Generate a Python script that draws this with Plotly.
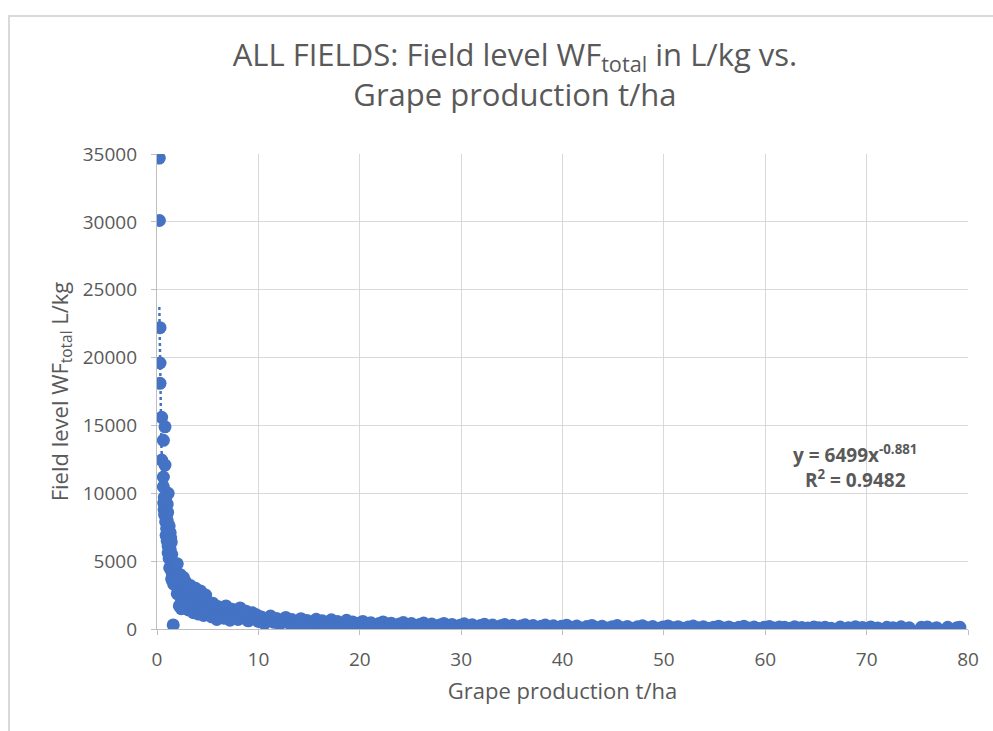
import numpy as np
import plotly.graph_objects as go

# Grape production (t/ha) and field-level total water footprint (L/kg), by yield band
prod_top = [0.23, 0.24, 0.30, 0.30, 0.30, 0.46, 0.79, 0.63, 0.46, 0.79, 0.63, 0.63, 1.10, 1.60]
wf_top = [34700, 30100, 22200, 19600, 18100, 15600, 14900, 13900, 12450, 12080, 11200, 10480, 10000, 300]

prod_a = [0.66, 0.70, 0.75, 0.80, 0.85, 0.90, 0.95, 1.00, 0.90, 1.00, 1.05, 1.10, 0.85, 1.00, 0.72, 1.05,
          1.10, 1.20, 1.30, 1.40, 1.25, 1.45, 1.50, 1.60, 1.70, 1.80, 1.90, 1.15, 1.35, 1.50, 1.65, 2.00, 1.45,
          1.20, 1.30, 1.40]
wf_a = [9300, 8800, 8400, 9000, 7900, 8300, 7400, 8000, 6900, 6500, 7000, 6100, 9500, 9200, 9700, 8600,
        5600, 5200, 5900, 4700, 4500, 5500, 4100, 4400, 3900, 4600, 4200, 6300, 6700, 3600, 3300, 4800, 3700,
        7600, 7100, 6400]

prod_b = [2.0, 2.1, 2.2, 2.3, 2.4, 2.5, 2.6, 2.7, 2.8, 2.9, 3.0, 2.4, 2.6, 2.2,
          3.1, 3.2, 3.3, 3.4, 3.5, 3.6, 3.7, 3.8, 3.9, 4.0, 4.1, 4.2, 4.3, 4.4, 4.5, 4.6, 4.7, 4.8, 4.9, 5.0]
wf_b = [2600, 3500, 2900, 4000, 2200, 3100, 1800, 2600, 3500, 2000, 2900, 1500, 3800, 1700,
        1400, 2300, 3200, 1800, 2700, 1200, 2100, 3000, 1600, 2500, 1100, 1900, 2800, 1400, 2200, 1000, 1700, 2500, 1250, 2000]

prod_c = [5.2, 5.4, 5.5, 5.7, 5.9, 6.0, 6.2, 6.4, 6.6, 6.8, 7.0, 7.2, 7.4, 7.6, 7.8, 8.0, 8.2, 8.4, 8.6,
          8.8, 9.0, 9.2, 9.4, 9.6, 9.8, 10.0]
wf_c = [1500, 900, 1900, 1200, 700, 1650, 1000, 1400, 800, 1700, 1150, 650, 1450, 950, 1250, 700, 1550, 1050, 800,
        1300, 600, 1000, 1200, 750, 1050, 550]

prod_d = [10.3, 10.6, 10.9, 11.2, 11.5, 11.8, 12.1, 12.4, 12.7, 13.0, 13.3, 13.6, 13.9, 14.2, 14.5, 14.8, 15.1,
          15.4, 15.7, 16.0, 16.3, 16.6, 16.9, 17.2, 17.5, 17.8, 18.1, 18.4, 18.7, 19.0, 19.3, 19.6, 19.9]
wf_d = [880, 400, 700, 950, 500, 780, 350, 640, 850, 450, 700, 300, 580, 760, 400, 620, 280,
        530, 720, 380, 600, 250, 480, 680, 350, 560, 230, 450, 640, 320, 520, 210, 420]

prod_e = [20.3, 20.7, 21.1, 21.5, 21.9, 22.3, 22.7, 23.1, 23.5, 23.9, 24.3, 24.7, 25.1, 25.5, 25.9, 26.3, 26.7,
          27.1, 27.5, 27.9, 28.3, 28.7, 29.1, 29.5, 29.9, 30.3, 30.7, 31.1, 31.5, 31.9, 32.3, 32.7, 33.1, 33.5,
          33.9, 34.3, 34.7, 35.1, 35.5, 35.9, 36.3, 36.7, 37.1, 37.5, 37.9, 38.3, 38.7, 39.1, 39.5, 39.9]
wf_e = [560, 300, 460, 180, 400, 520, 250, 430, 160, 360, 480, 220, 400, 150, 330, 440, 200,
        370, 130, 300, 410, 190, 340, 120, 280, 380, 170, 310, 110, 260, 350, 160, 290, 100,
        240, 330, 150, 270, 90, 230, 310, 140, 250, 85, 210, 290, 130, 240, 80, 200]

prod_f = [40.4, 40.9, 41.4, 41.9, 42.4, 42.9, 43.4, 43.9, 44.4, 44.9, 45.4, 45.9, 46.4, 46.9, 47.4, 47.9, 48.4,
          48.9, 49.4, 49.9, 50.4, 50.9, 51.4, 51.9, 52.4, 52.9, 53.4, 53.9, 54.4, 54.9, 55.4, 55.9, 56.4, 56.9,
          57.4, 57.9, 58.4, 58.9, 59.4, 59.9, 60.4, 60.9, 61.4, 61.9, 62.4, 62.9, 63.6, 64.2, 64.8, 65.3, 65.9, 66.5]
wf_f = [280, 120, 220, 70, 180, 260, 110, 200, 65, 170, 250, 100, 190, 60, 160, 240, 95,
        180, 55, 150, 230, 90, 170, 50, 140, 220, 85, 160, 50, 135, 210, 80, 150, 45,
        130, 200, 75, 145, 45, 120, 190, 70, 140, 120, 60, 170, 110, 65, 150, 90, 130, 60]

prod_g = [67.4, 68.2, 68.9, 69.6, 70.4, 71.1, 72.0, 72.6, 73.4, 74.2, 75.4, 76.0, 76.9, 78.0, 78.9, 79.2]
wf_g = [140, 90, 170, 110, 150, 80, 130, 100, 160, 90, 120, 140, 100, 130, 90, 120]

# Power trendline reported on the chart: y = a * x^b
trend_a = 6499
trend_b = -0.881
r_squared = 0.9482

production = prod_top + prod_a + prod_b + prod_c + prod_d + prod_e + prod_f + prod_g
wf_total = wf_top + wf_a + wf_b + wf_c + wf_d + wf_e + wf_f + wf_g

BLUE = "#4472C4"
TEXT = "#595959"
GRID = "#d9d9d9"
AXIS = "#bfbfbf"
FONT = "Open Sans"

fig = go.Figure()
fig.add_trace(go.Scatter(
    x=production, y=wf_total, mode="markers",
    marker=dict(color=BLUE, size=13, line=dict(width=0)),
    showlegend=False, hoverinfo="x+y",
))

tx = np.geomspace(min(production), max(production), 400)
fig.add_trace(go.Scatter(
    x=tx, y=trend_a * tx ** trend_b, mode="lines",
    line=dict(color=BLUE, width=2.5, dash="dot"),
    showlegend=False, hoverinfo="skip",
))

fig.add_annotation(
    x=68.9, y=12000, xref="x", yref="y",
    text=f"<b>y = {trend_a}x<sup>{trend_b}</sup></b><br><b>R<sup>2</sup> = {r_squared}</b>",
    showarrow=False, align="center", font=dict(family=FONT, size=19, color=TEXT),
)

# chart frame
fig.add_shape(type="rect", xref="paper", yref="paper",
              x0=-0.1825, x1=1.05, y0=-0.25, y1=1.2905,
              line=dict(color=GRID, width=2), fillcolor="rgba(0,0,0,0)", layer="below")

fig.update_layout(
    width=993, height=731,
    margin=dict(l=157, r=25, t=154, b=102),
    paper_bgcolor="white", plot_bgcolor="white",
    font=dict(family=FONT, color=TEXT),
    title=dict(
        text="ALL FIELDS: Field level WF<sub>total</sub> in L/kg vs.<br>Grape production t/ha",
        x=0.5186, xref="container", xanchor="center",
        y=0.91, yref="container", yanchor="top",
        font=dict(family=FONT, size=31, color=TEXT),
    ),
    xaxis=dict(
        range=[0, 80], dtick=10, tick0=0,
        showgrid=True, gridcolor=GRID, gridwidth=1.3,
        showline=True, linecolor=AXIS, linewidth=1.3,
        ticks="outside", ticklen=5, tickcolor=AXIS,
        ticklabelstandoff=8,
        tickfont=dict(family=FONT, size=19, color=TEXT),
        zeroline=False,
        title=dict(text="Grape production t/ha", font=dict(family=FONT, size=22, color=TEXT), standoff=12),
    ),
    yaxis=dict(
        range=[0, 35000], dtick=5000, tick0=0,
        showgrid=True, gridcolor=GRID, gridwidth=1.3,
        showline=True, linecolor=AXIS, linewidth=1.3,
        ticks="outside", ticklen=5, tickcolor=AXIS,
        ticklabelstandoff=10,
        tickfont=dict(family=FONT, size=19, color=TEXT),
        tickformat="d", zeroline=False,
        title=dict(text="Field level WF<sub>total</sub> L/kg", font=dict(family=FONT, size=22, color=TEXT), standoff=8),
    ),
)

fig.write_html("out.html")
